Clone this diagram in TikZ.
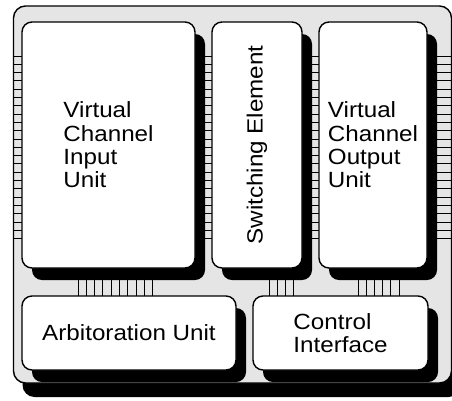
\documentclass[tikz,border=0pt]{standalone}
\usepackage{fontspec}
\setmainfont{Liberation Sans}[FakeStretch=1.1]
\usetikzlibrary{shadows}
\begin{document}
\begin{tikzpicture}[x=1pt,y=-1pt,
  blk/.style={draw=black, line width=1.4pt, fill=white, rounded corners=10pt,
    inner sep=0pt, align=left, font=\fontsize{22}{23.3}\selectfont,
    drop shadow={shadow xshift=10pt, shadow yshift=-12pt, fill=black, opacity=1}},
  frame/.style={draw=black, line width=1.4pt, fill=black!10, rounded corners=12pt,
    inner sep=0pt, minimum width=438pt, minimum height=377pt,
    drop shadow={shadow xshift=9pt, shadow yshift=-14pt, fill=black, opacity=1}},
  pin/.style={draw=black, line width=1pt}]
\useasboundingbox (0,0) rectangle (452,400);
\clip (0,0) rectangle (452,400);
\fill[white] (0,0) rectangle (452,400);
% outer frame
\node[frame] (router) at (232.5,194.5) {};
% pin ladders (vertical gaps)
\foreach \k in {0,...,22}{
  \pgfmathsetmacro{\yy}{56+8.3*\k}
  \draw[pin] (13,\yy) -- (30,\yy);
  \draw[pin] (195,\yy) -- (216,\yy);
  \draw[pin] (300,\yy) -- (323,\yy);
  \draw[pin] (425,\yy) -- (452,\yy);
}
% pin ladders (horizontal gaps)
\foreach \k in {0,...,9}{
  \pgfmathsetmacro{\xx}{78+8.33*\k}
  \draw[pin] (\xx,272) -- (\xx,300);
}
\foreach \k in {0,...,3}{
  \pgfmathsetmacro{\xx}{269+8.33*\k}
  \draw[pin] (\xx,272) -- (\xx,300);
}
\foreach \k in {0,...,5}{
  \pgfmathsetmacro{\xx}{358+8.2*\k}
  \draw[pin] (\xx,272) -- (\xx,300);
}
% units
\node[blk, minimum width=173pt, minimum height=246pt] (vciu) at (108.5,145)
  {Virtual\\Channel\\Input\\Unit};
\node[blk, minimum width=90pt, minimum height=246pt] (se) at (257,145)
  {\rotatebox{90}{Switching Element}};
\node[blk, minimum width=108pt, minimum height=246pt] (vcou) at (373,145)
  {Virtual\\Channel\\Output\\Unit};
\node[blk, minimum width=214pt, minimum height=74pt] (arb) at (129,333)
  {Arbitoration Unit};
\node[blk, minimum width=175pt, minimum height=74pt] (ci) at (340.5,333)
  {Control\\Interface};
\end{tikzpicture}
\end{document}
